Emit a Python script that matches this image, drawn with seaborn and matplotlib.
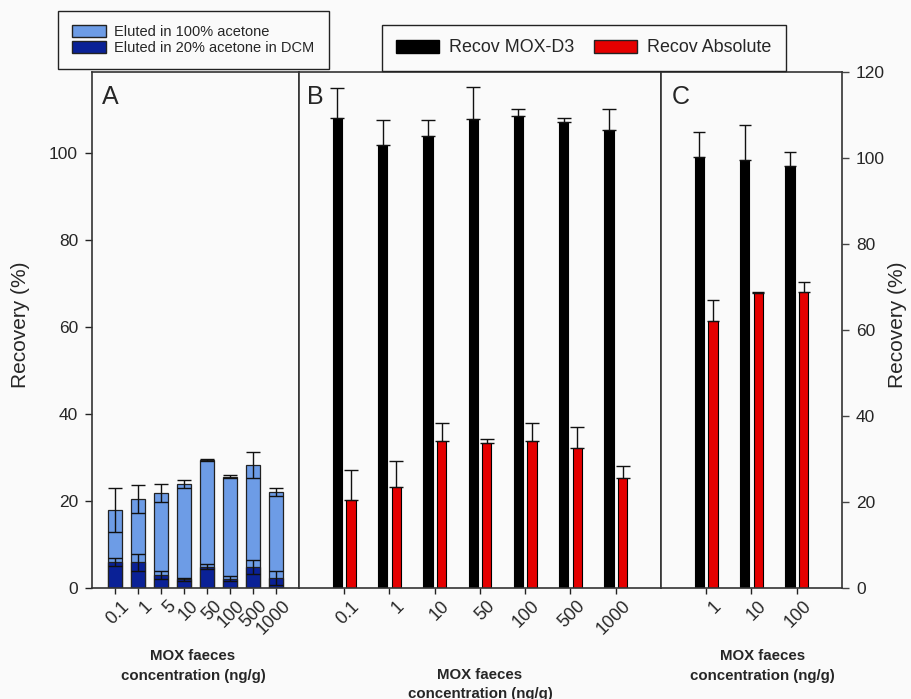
import numpy as np
import pandas as pd
import seaborn as sns
import matplotlib.pyplot as plt
from matplotlib.patches import Patch
import matplotlib.transforms as mtransforms

# panel A - SPE elution fractions (stacked)
conc_a = ['0.1', '1', '5', '10', '50', '100', '500', '1000']
a_total = [17.9, 20.5, 21.9, 23.9, 29.4, 25.6, 28.2, 22.1]
a_total_err = [5.0, 3.2, 2.1, 0.9, 0.3, 0.4, 3.0, 0.9]
a_dcm = [6.0, 5.9, 2.9, 2.0, 4.9, 2.1, 4.9, 2.2]
a_dcm_err = [1.0, 2.0, 0.9, 0.4, 0.6, 0.6, 1.6, 1.6]

# panel B
conc_b = ['0.1', '1', '10', '50', '100', '500', '1000']
b_d3 = [108.1, 101.8, 104.0, 107.8, 108.4, 107.1, 105.3]
b_d3_err = [6.8, 5.8, 3.6, 7.4, 1.7, 0.9, 4.7]
b_abs = [20.3, 23.3, 33.9, 33.3, 33.9, 32.1, 25.2]
b_abs_err = [6.8, 5.8, 4.0, 0.9, 4.0, 4.9, 2.8]

# panel C
conc_c = ['1', '10', '100']
c_d3 = [100.2, 99.5, 98.1]
c_d3_err = [5.8, 8.2, 3.4]
c_abs = [62.0, 68.6, 68.9]
c_abs_err = [4.9, 0.2, 2.2]

series = ['Recov MOX-D3', 'Recov Absolute']
legend_a = ['Eluted in 100% acetone', 'Eluted in 20% acetone in DCM']

light = '#6d9ce6'
dark = '#0a2196'
red = '#e50000'
bg = '#fafafa'
spine_c = '#333333'

sns.set_style('ticks')
plt.rcParams['font.family'] = ['Liberation Sans', 'DejaVu Sans']

W, H = 912, 699
fig = plt.figure(figsize=(W / 100, H / 100), dpi=100, facecolor=bg)


def box(x0, x1, y0=72, y1=588):
    return [x0 / W, 1 - y1 / H, (x1 - x0) / W, (y1 - y0) / H]


axA = fig.add_axes(box(92, 299))
axB = fig.add_axes(box(299, 661))
axC = fig.add_axes(box(661, 842))

# ---- A
sns.barplot(x=conc_a, y=a_total, color=light, width=0.6, edgecolor='#222222',
            linewidth=0.9, saturation=1, errorbar=None, ax=axA)
sns.barplot(x=conc_a, y=a_dcm, color=dark, width=0.6, edgecolor='#222222',
            linewidth=0.9, saturation=1, errorbar=None, ax=axA)
for cont, vals, errs in zip(axA.containers, [a_total, a_dcm], [a_total_err, a_dcm_err]):
    xs = [p.get_x() + p.get_width() / 2 for p in cont]
    axA.errorbar(xs, vals, yerr=errs, fmt='none', ecolor='#111111',
                 elinewidth=1, capsize=5, capthick=1, zorder=5)


def grouped(ax, conc, d3, d3e, ab, abe, cap):
    df = pd.DataFrame({
        'conc': conc + conc,
        'series': [series[0]] * len(conc) + [series[1]] * len(conc),
        'value': d3 + ab,
    })
    sns.barplot(data=df, x='conc', y='value', hue='series', order=conc,
                palette={series[0]: 'black', series[1]: red}, saturation=1,
                width=0.6, gap=0.33, edgecolor='black', linewidth=0.8,
                errorbar=None, legend=False, ax=ax)
    for cont, vals, errs in zip(ax.containers, [d3, ab], [d3e, abe]):
        xs = [p.get_x() + p.get_width() / 2 for p in cont]
        ax.errorbar(xs, vals, yerr=[np.zeros(len(errs)), errs], fmt='none',
                    ecolor='#111111', elinewidth=1, capsize=cap, capthick=1, zorder=5)


grouped(axB, conc_b, b_d3, b_d3_err, b_abs, b_abs_err, 4.7)
grouped(axC, conc_c, c_d3, c_d3_err, c_abs, c_abs_err, 4.6)

# ---- axes formatting
lim = {axA: (len(conc_a), 118.6), axB: (len(conc_b), 118.6), axC: (len(conc_c), 120)}
labpos = {axA: 0.488, axB: 0.5, axC: 0.56}
labdy = {axA: -0.151, axB: -0.187, axC: -0.151}
letters = {axA: ('A', 0.05), axB: ('B', 0.022), axC: ('C', 0.06)}
offset = mtransforms.ScaledTranslation(6 / 100, 0, fig.dpi_scale_trans)
for ax in (axA, axB, axC):
    n, top = lim[ax]
    ax.set_xlim(-1, n)
    ax.set_ylim(0, top)
    ax.set_facecolor(bg)
    for s in ax.spines.values():
        s.set_color(spine_c)
        s.set_linewidth(1.2)
    ax.tick_params(axis='x', length=4, width=1, color='#222222', pad=3, labelsize=13)
    for lab in ax.get_xticklabels():
        lab.set_rotation(45)
        lab.set_ha('right')
        lab.set_va('top')
        lab.set_rotation_mode('anchor')
        lab.set_transform(lab.get_transform() + offset)
    ax.set_xlabel('MOX faeces\nconcentration (ng/g)', fontsize=10.8, fontweight='bold',
                  linespacing=1.5)
    ax.xaxis.set_label_coords(labpos[ax], labdy[ax])
    ax.xaxis.label.set_va('center')
    ax.set_ylabel('')
    t, x = letters[ax]
    ax.text(x, 0.975, t, transform=ax.transAxes, fontsize=18, va='top', ha='left')

axA.set_yticks(np.arange(0, 101, 20))
axA.tick_params(axis='y', length=5, width=1, color='#222222', pad=5, labelsize=12.5)
axA.set_ylabel('Recovery (%)', fontsize=15)
axA.yaxis.set_label_coords(-0.347, 0.51)
axA.yaxis.label.set_va('center')

axB.set_yticks([])

axC.set_yticks(np.arange(0, 121, 20))
axC.yaxis.tick_right()
axC.tick_params(axis='y', length=5, width=1, color='#444444', pad=5, labelsize=12.5)
axC.yaxis.set_label_position('right')
axC.set_ylabel('Recovery (%)', fontsize=15, rotation=90)
axC.yaxis.set_label_coords(1.309, 0.51)
axC.yaxis.label.set_va('center')

# ---- legends
h1 = [Patch(facecolor=light, edgecolor='#222222'), Patch(facecolor=dark, edgecolor='#222222')]
lg1 = fig.legend(h1, legend_a, loc='upper left', bbox_to_anchor=(58 / W, 1 - 11 / H),
                 fontsize=10.5, frameon=True, fancybox=False, framealpha=1,
                 edgecolor='#222222', facecolor=bg, borderaxespad=0, borderpad=0.97,
                 labelspacing=0.15, handlelength=2.3, handleheight=0.85, handletextpad=0.6)
lg1.get_frame().set_linewidth(1)

h2 = [Patch(facecolor='black', edgecolor='black'), Patch(facecolor=red, edgecolor='#222222')]
lg2 = fig.legend(h2, series, loc='upper left', bbox_to_anchor=(382 / W, 1 - 25 / H),
                 ncol=2, fontsize=12.9, frameon=True, fancybox=False, framealpha=1,
                 edgecolor='#222222', facecolor=bg, borderaxespad=0, borderpad=0.8,
                 handlelength=2.4, handleheight=0.75, handletextpad=0.55,
                 columnspacing=1.1)
lg2.get_frame().set_linewidth(1)

fig.savefig('out.png', dpi=100, facecolor=bg)
